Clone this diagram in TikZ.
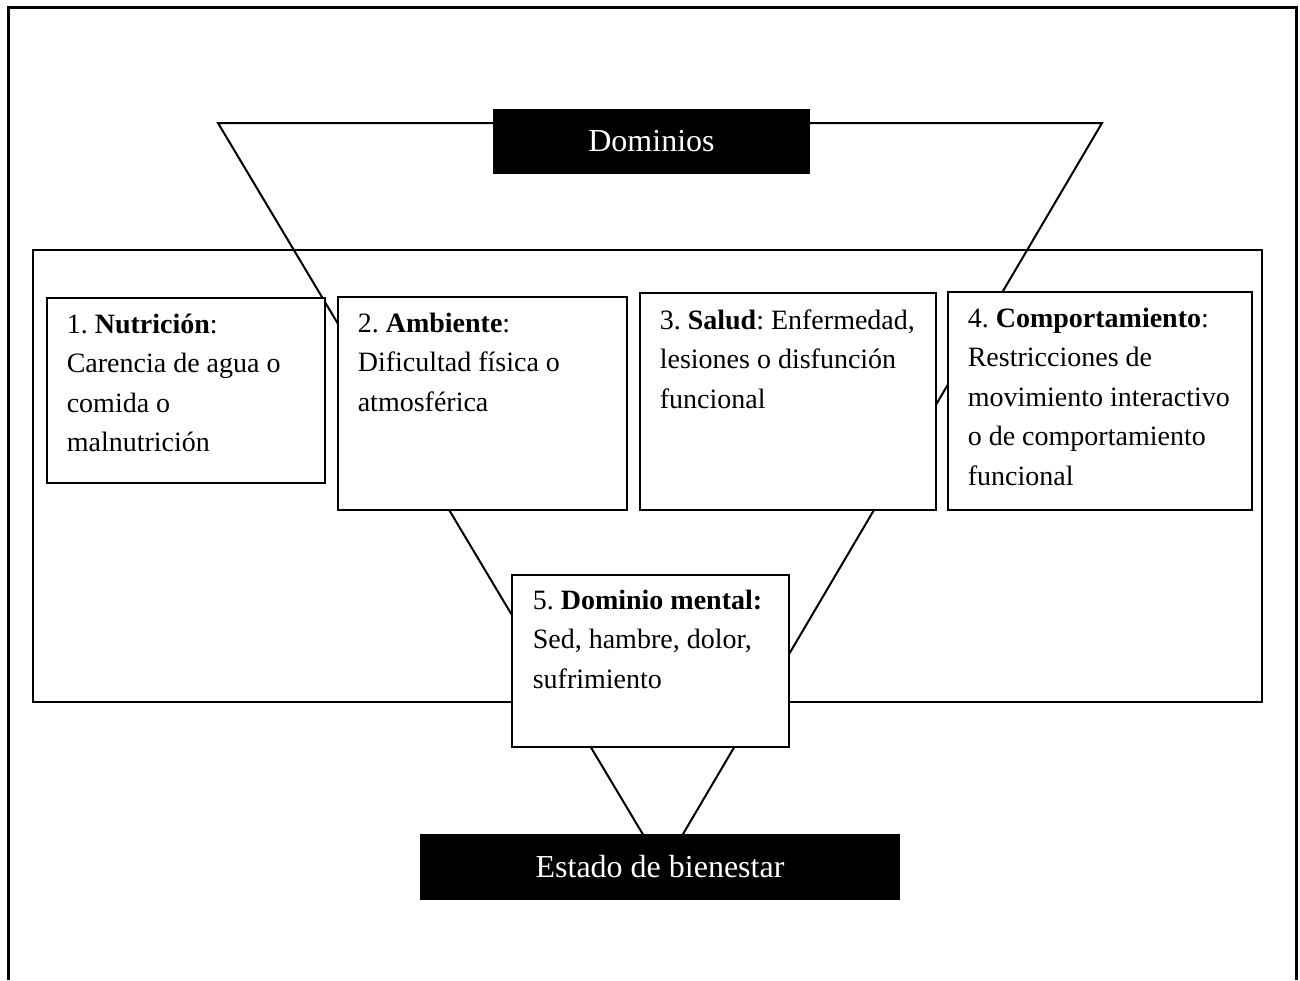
\documentclass[tikz,border=0pt]{standalone}
\usepackage{fontspec}
\setmainfont{Liberation Serif}
\usetikzlibrary{fit}
\frenchspacing

\tikzset{
  domline/.style={line width=1pt},
  dombox/.style={draw, fill=white, line width=0.6pt, inner sep=0pt},
  domtext/.style={anchor=base west, inner sep=0pt, font=\fontsize{14}{19.75}\selectfont},
  darkbox/.style={fill=black, text=white, inner sep=0pt, font=\fontsize{16}{19}\selectfont}
}

\begin{document}
\begin{tikzpicture}[x=0.5pt,y=-0.5pt]
  \useasboundingbox (0,0) rectangle (1300,980);
  % outer frame, bottom edge runs off the page
  \draw[line width=1.5pt] (8,980) -- (8,7) -- (1296,7) -- (1296,980);
  % funnel and the frame of the domains
  \coordinate (tl) at (218,123);
  \coordinate (tr) at (1102,123);
  \coordinate (apex) at (663,868);
  \draw[domline] (tl) -- (tr) -- (apex) -- cycle;
  \draw[domline] (33,250) rectangle (1262,702);
  % the five domains
  \node[dombox, fit={(47,298) (325,483)}] (nutri) {};
  \node[domtext] (nutritxt) at ([shift={(20,36)}]nutri.north west)
    {\parbox[t]{150pt}{\raggedright 1. \textbf{Nutrición}:\\ Carencia de agua o\\ comida o\\ malnutrición}};
  \node[dombox, fit={(338,297) (627,510)}] (ambiente) {};
  \node[domtext] (ambientetxt) at ([shift={(20,36)}]ambiente.north west)
    {\parbox[t]{150pt}{\raggedright 2. \textbf{Ambiente}:\\ Dificultad física o\\ atmosférica}};
  \node[dombox, fit={(640,293) (936,510)}] (salud) {};
  \node[domtext] (saludtxt) at ([shift={(20,37)}]salud.north west)
    {\parbox[t]{150pt}{\raggedright 3. \textbf{Salud}: Enfermedad,\\ lesiones o disfunción\\ funcional}};
  \node[dombox, fit={(948,292) (1252,510)}] (compor) {};
  \node[domtext] (comportxt) at ([shift={(20,36)}]compor.north west)
    {\parbox[t]{150pt}{\raggedright 4. \textbf{Comportamiento}:\\ Restricciones de\\ movimiento interactivo\\ o de comportamiento\\ funcional}};
  \node[dombox, fit={(512,575) (789,747)}] (mental) {};
  \node[domtext] (mentaltxt) at ([shift={(21,35)}]mental.north west)
    {\parbox[t]{150pt}{\raggedright 5. \textbf{Dominio mental:}\\ Sed, hambre, dolor,\\ sufrimiento}};
  % black banners
  \node[darkbox, minimum width=158.5pt, minimum height=32.5pt] (dominios) at (651.5,141.5) {Dominios};
  \node[darkbox, minimum width=240pt, minimum height=33pt] (bienestar) at (660,867) {Estado de bienestar};
\end{tikzpicture}
\end{document}
